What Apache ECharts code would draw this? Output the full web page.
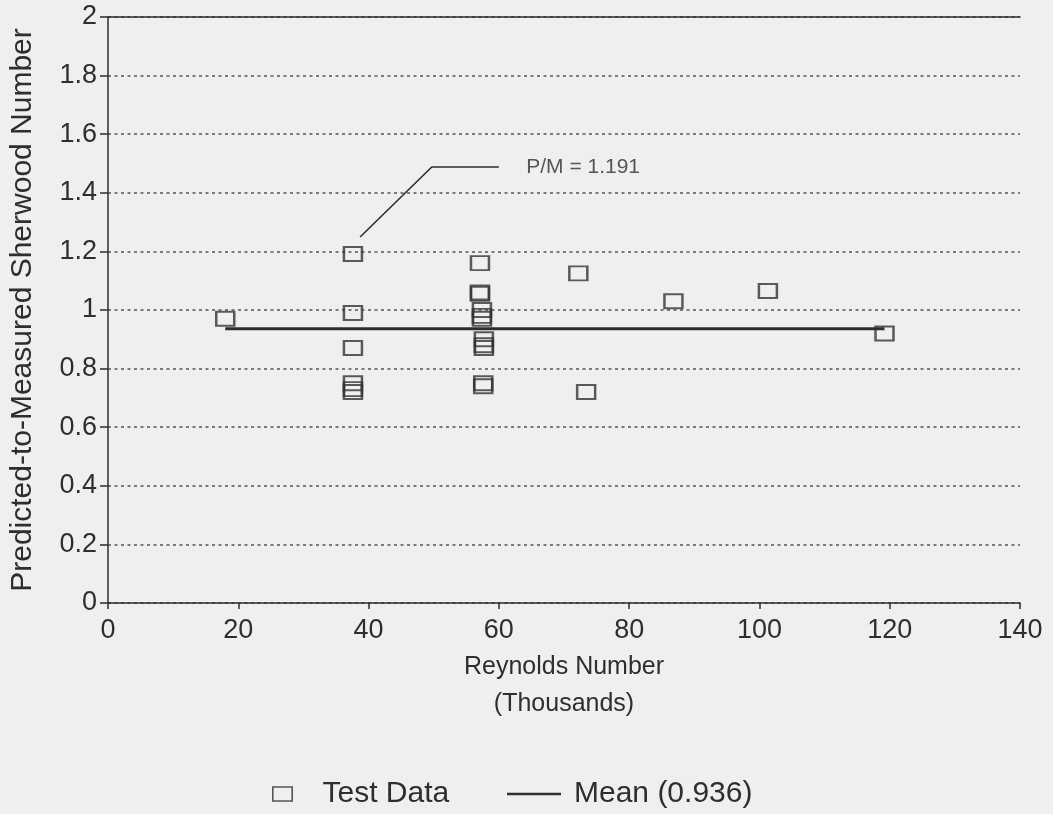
<!DOCTYPE html>
<html>
<head>
<meta charset="utf-8">
<script src="https://cdn.jsdelivr.net/npm/echarts@6/dist/echarts.min.js"></script>
<style>
  html, body { margin: 0; padding: 0; background: #efefed; }
  #chart { width: 1053px; height: 814px; }
</style>
</head>
<body>
<div id="chart"></div>
<script>
//--------------------- Data ---------------------------//
// Reynolds number (thousands) and predicted/measured Sherwood ratio
const testRe = [18.0, 37.6, 37.6, 37.6, 37.6, 37.6, 37.6,
  57.1, 57.1, 57.1, 57.4, 57.4, 57.4, 57.7, 57.7, 57.7, 57.6, 57.6,
  72.2, 73.4, 86.8, 101.3, 119.2];
const testRatio = [0.97, 1.191, 0.99, 0.87, 0.75, 0.73, 0.72,
  1.16, 1.06, 1.055, 1.0, 0.98, 0.97, 0.90, 0.88, 0.87, 0.75, 0.74,
  1.125, 0.72, 1.03, 1.065, 0.92];
const meanValue = 0.936;
const meanRange = [18.0, 119.2];
// leader line to the P/M label
const noteX = [38.7, 49.7, 60.0];
const noteY = [1.249, 1.488, 1.488];
const noteText = 'P/M = 1.191';
const noteAt = [64.2, 1.488];

const xTicks = [0, 20, 40, 60, 80, 100, 120, 140];
const yTicks = [0, 0.2, 0.4, 0.6, 0.8, 1, 1.2, 1.4, 1.6, 1.8, 2];

//--------------------- Chart ---------------------------//
const ink = '#2e2e2e';
const font = "'Liberation Sans', Arial, sans-serif";
const chart = echarts.init(document.getElementById('chart'));

// one legend per entry so each can sit where the original puts it
function legendAt(left, item) {
  return {
    bottom: 0, left: left, itemWidth: 54, itemHeight: 14,
    textStyle: { fontSize: 30, color: ink, fontFamily: font, padding: [0, 0, 0, 8] },
    data: [item]
  };
}

const option = {
  backgroundColor: '#efefed',
  animation: false,
  textStyle: { fontFamily: font, color: ink },
  grid: { left: 105, right: 33, top: 17, bottom: 211 },
  xAxis: [{
    type: 'value', min: xTicks[0], max: xTicks[xTicks.length - 1], interval: 20,
    name: 'Reynolds Number\n(Thousands)', nameLocation: 'middle', nameGap: 42,
    nameTextStyle: { fontSize: 25, lineHeight: 37, color: ink, fontFamily: font },
    axisLine: { lineStyle: { color: ink, width: 1.5 } },
    axisTick: { show: true, inside: false, length: 6, lineStyle: { color: ink, width: 1.5 } },
    axisLabel: { fontSize: 27, color: ink, margin: 14, fontFamily: font },
    splitLine: { show: false }
  }, {
    type: 'value', position: 'top', min: xTicks[0], max: xTicks[xTicks.length - 1],
    axisLine: { show: true, lineStyle: { color: ink, width: 1.5 } },
    axisTick: { show: false }, axisLabel: { show: false }, splitLine: { show: false }
  }],
  yAxis: {
    type: 'value', min: yTicks[0], max: yTicks[yTicks.length - 1], interval: 0.2,
    name: 'Predicted-to-Measured Sherwood Number', nameLocation: 'middle', nameGap: 70,
    nameRotate: 90,
    nameTextStyle: { fontSize: 30, color: ink, fontFamily: font },
    axisLine: { show: true, lineStyle: { color: ink, width: 1.5 } },
    axisTick: { show: true, inside: false, length: 8, lineStyle: { color: ink, width: 1.5 } },
    axisLabel: {
      fontSize: 27, color: ink, margin: 11, fontFamily: font,
      formatter: v => String(+v.toFixed(1))
    },
    splitLine: { show: true, lineStyle: { color: '#555', width: 1.7, type: [3, 3.5] } }
  },
  legend: [
    legendAt(267, { name: 'Test Data', icon: 'path://M0,0H18V13H0Z',
      itemStyle: { color: 'rgba(0,0,0,0)', borderColor: ink, borderWidth: 1.6 } }),
    legendAt(502, { name: 'Mean (0.936)', icon: 'path://M0,0H54V2.5H0Z',
      itemStyle: { color: ink, borderWidth: 0 } })
  ],
  series: [
    {
      name: 'Test Data', type: 'scatter', symbol: 'rect', symbolSize: [18, 14],
      itemStyle: { color: 'rgba(0,0,0,0)', borderColor: '#333', borderWidth: 2.2 },
      data: testRe.map((x, i) => [x, testRatio[i]]), z: 3
    },
    {
      name: 'Mean (0.936)', type: 'line', symbol: 'none',
      lineStyle: { color: ink, width: 3 }, itemStyle: { color: ink },
      data: meanRange.map(x => [x, meanValue]), z: 4
    },
    {
      name: 'note', type: 'line', symbol: 'none', silent: true,
      lineStyle: { color: ink, width: 1.6 },
      data: noteX.map((x, i) => [x, noteY[i]])
    },
    {
      name: 'noteLabel', type: 'scatter', symbolSize: 0, silent: true,
      label: { show: true, position: 'right', distance: 0, formatter: noteText,
        fontSize: 21, color: ink, fontFamily: font },
      data: [noteAt]
    }
  ]
};
chart.setOption(option);
</script>
</body>
</html>
